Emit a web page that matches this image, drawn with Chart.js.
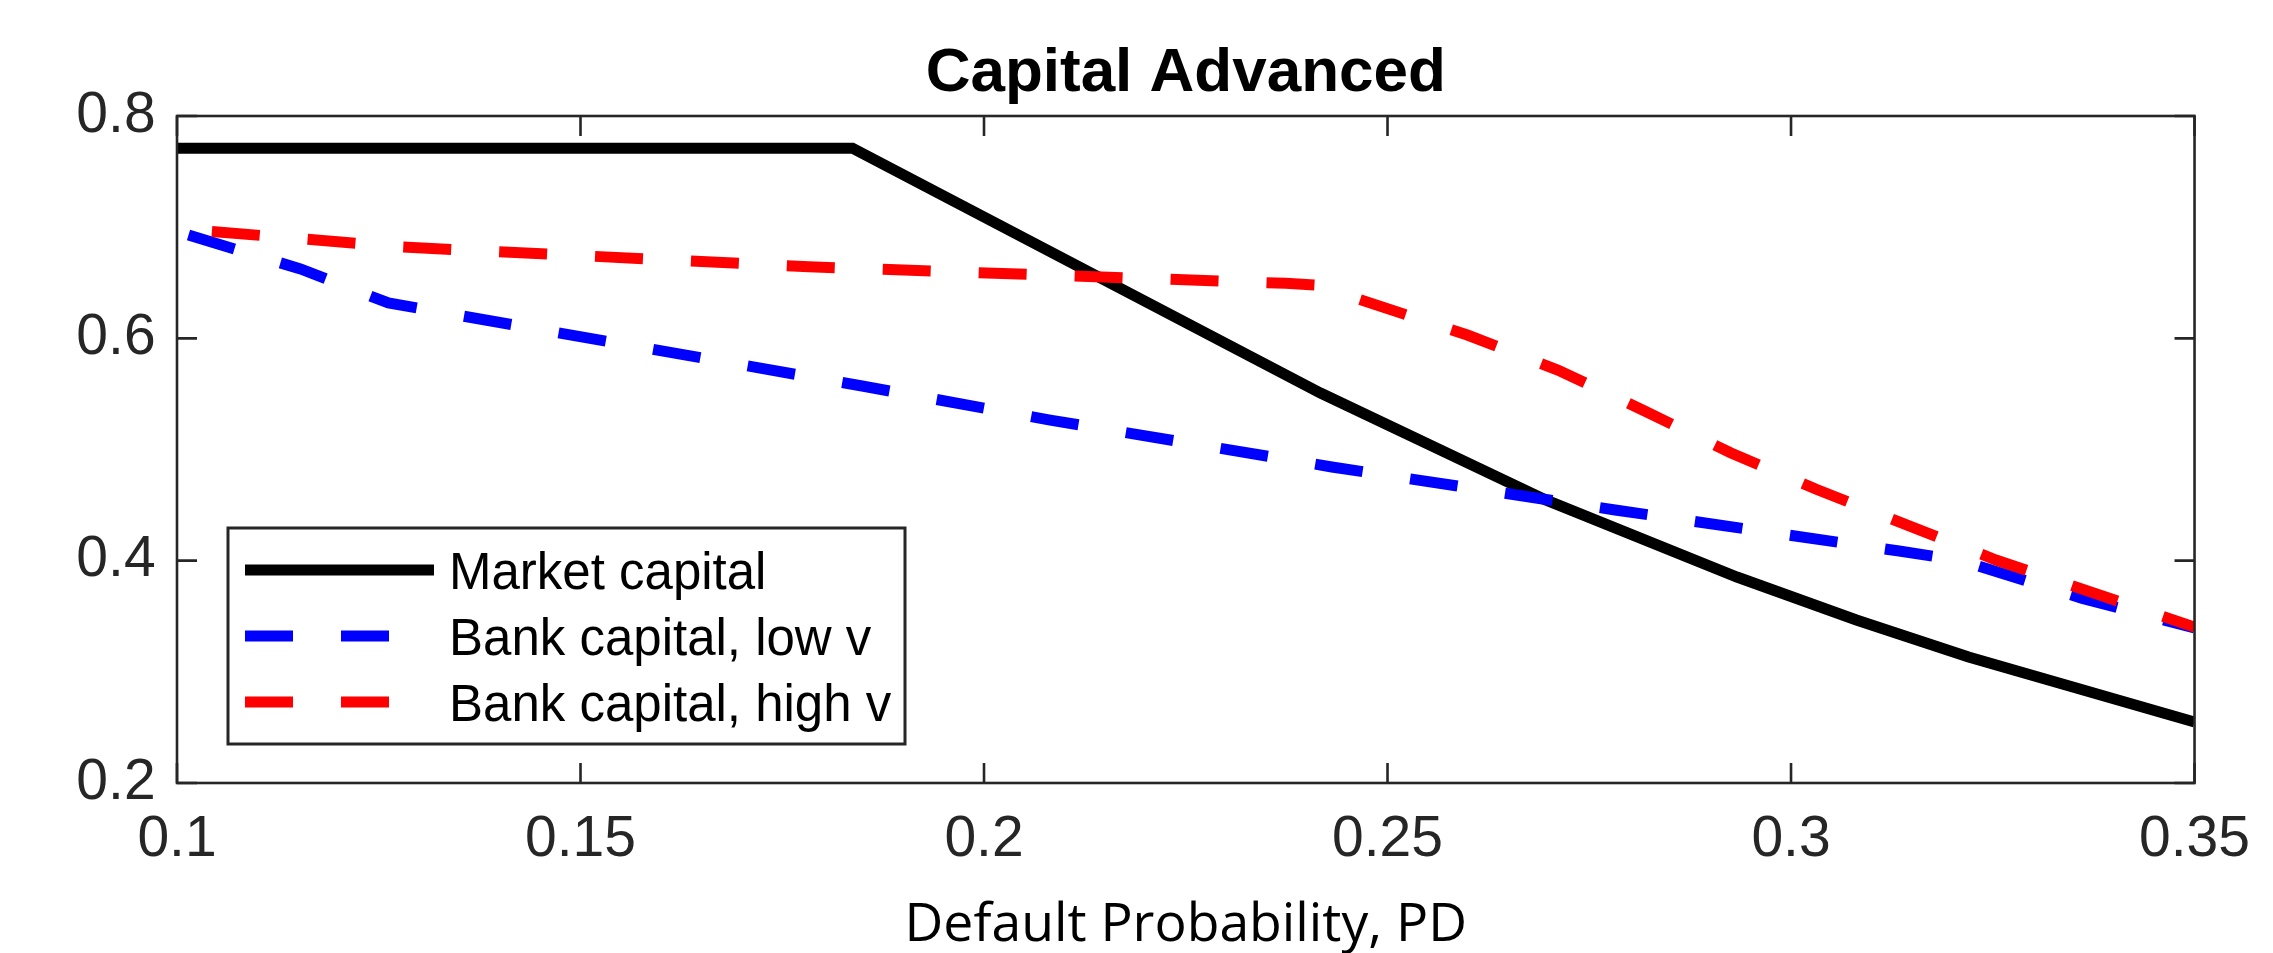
<!DOCTYPE html>
<html>
<head>
<meta charset="utf-8">
<title>Capital Advanced</title>
<script src="https://cdn.jsdelivr.net/npm/chart.js@4/dist/chart.umd.min.js"></script>
<style>
  html, body { margin: 0; padding: 0; background: #ffffff; overflow: hidden; }
  #wrap { width: 2273px; height: 953px; }
</style>
</head>
<body>
<div id="wrap"><canvas id="chart" width="2273" height="953"></canvas></div>
<script>
// Market capital against default probability
const pdMarket      = [0.1, 0.1837, 0.2417, 0.2696, 0.2933, 0.3081, 0.3220, 0.35];
const marketCapital = [0.771, 0.771, 0.5508, 0.4546, 0.3853, 0.3466, 0.3133, 0.2549];

// Bank capital, low v
const pdBankLow      = [0.1, 0.1153, 0.1262, 0.1849, 0.2082, 0.2431, 0.2782, 0.3134, 0.3211, 0.3361, 0.35];
const bankCapitalLow = [0.696, 0.6624, 0.6318, 0.5571, 0.5265, 0.4843, 0.4456, 0.4087, 0.4001, 0.3661, 0.3394];

// Bank capital, high v
const pdBankHigh      = [0.1, 0.128, 0.1783, 0.2374, 0.2411, 0.2599, 0.2711, 0.2818, 0.2925, 0.3032, 0.3254, 0.35];
const bankCapitalHigh = [0.6987, 0.6821, 0.6644, 0.6495, 0.648, 0.603, 0.5715, 0.5349, 0.4971, 0.464, 0.4006, 0.3403];

// Axis ticks
const pdTicks       = [0.1, 0.15, 0.2, 0.25, 0.3, 0.35];
const pdTickLabels  = ['0.1', '0.15', '0.2', '0.25', '0.3', '0.35'];
const capTicks      = [0.2, 0.4, 0.6, 0.8];
const capTickLabels = ['0.2', '0.4', '0.6', '0.8'];

const toPoints = (xs, ys) => xs.map((x, i) => ({ x: x, y: ys[i] }));

const AXIS_COLOR = '#262626';
const TICK_FONT = { family: "'Liberation Sans', Arial, sans-serif", size: 57 };

// Box around the axes with inward tick marks on all four sides
const axesBox = {
  id: 'axesBox',
  afterDatasetsDraw(chart) {
    const { ctx, chartArea: a, scales } = chart;
    const len = 20;
    ctx.save();
    ctx.strokeStyle = AXIS_COLOR;
    ctx.lineWidth = 2.6;
    ctx.lineCap = 'butt';
    ctx.beginPath();
    pdTicks.forEach(v => {
      const px = scales.x.getPixelForValue(v);
      ctx.moveTo(px, a.bottom); ctx.lineTo(px, a.bottom - len);
      ctx.moveTo(px, a.top);    ctx.lineTo(px, a.top + len);
    });
    capTicks.forEach(v => {
      const py = scales.y.getPixelForValue(v);
      ctx.moveTo(a.left, py);  ctx.lineTo(a.left + len, py);
      ctx.moveTo(a.right, py); ctx.lineTo(a.right - len, py);
    });
    ctx.stroke();
    ctx.strokeRect(a.left, a.top, a.right - a.left, a.bottom - a.top);
    ctx.restore();
  }
};

// Legend box placed inside the lower-left corner of the axes
const insideLegend = {
  id: 'insideLegend',
  afterDraw(chart, args, opts) {
    const { ctx } = chart;
    const b = opts.box;
    ctx.save();
    ctx.fillStyle = '#ffffff';
    ctx.fillRect(b.left, b.top, b.right - b.left, b.bottom - b.top);
    ctx.strokeStyle = AXIS_COLOR;
    ctx.lineWidth = 3;
    ctx.strokeRect(b.left, b.top, b.right - b.left, b.bottom - b.top);
    ctx.font = opts.font;
    ctx.fillStyle = '#000000';
    ctx.textAlign = 'left';
    ctx.textBaseline = 'alphabetic';
    chart.data.datasets.forEach((ds, i) => {
      const cy = opts.firstRow + i * opts.rowGap;
      ctx.beginPath();
      ctx.setLineDash(ds.borderDash || []);
      ctx.lineDashOffset = 0;
      ctx.lineCap = 'butt';
      ctx.strokeStyle = ds.borderColor;
      ctx.lineWidth = ds.borderWidth;
      ctx.moveTo(opts.sampleStart, cy);
      ctx.lineTo(opts.sampleEnd, cy);
      ctx.stroke();
      ctx.setLineDash([]);
      ctx.fillText(ds.label, opts.textStart, cy + opts.baselineShift);
    });
    ctx.restore();
  }
};

const lineStyle = { pointRadius: 0, tension: 0, borderWidth: 11, borderCapStyle: 'butt', fill: false };

new Chart(document.getElementById('chart'), {
  type: 'line',
  data: {
    datasets: [
      Object.assign({
        label: 'Market capital',
        data: toPoints(pdMarket, marketCapital),
        borderColor: '#000000',
        order: 2
      }, lineStyle),
      Object.assign({
        label: 'Bank capital, low v',
        data: toPoints(pdBankLow, bankCapitalLow),
        borderColor: '#0000ff',
        borderDash: [48, 48],
        borderDashOffset: 84,
        order: 1
      }, lineStyle),
      Object.assign({
        label: 'Bank capital, high v',
        data: toPoints(pdBankHigh, bankCapitalHigh),
        borderColor: '#ff0000',
        borderDash: [48, 48],
        borderDashOffset: 61,
        order: 0
      }, lineStyle)
    ]
  },
  options: {
    responsive: false,
    devicePixelRatio: 1,
    animation: false,
    events: [],
    layout: { padding: { left: 0, right: 63, top: 0, bottom: 0 } },
    plugins: {
      legend: { display: false },
      tooltip: { enabled: false },
      title: {
        display: true,
        fullSize: false,
        text: 'Capital Advanced',
        color: '#000000',
        font: { family: "'Liberation Sans', Arial, sans-serif", size: 62, weight: 'bold', lineHeight: 1.2 },
        padding: { top: 36.6, bottom: 5 }
      },
      insideLegend: {
        box: { left: 228, top: 528, right: 905, bottom: 744 },
        font: "51px 'Liberation Sans', Arial, sans-serif",
        firstRow: 570,
        rowGap: 66,
        sampleStart: 245,
        sampleEnd: 434,
        textStart: 449,
        baselineShift: 19
      }
    },
    scales: {
      x: {
        type: 'linear',
        min: 0.1,
        max: 0.35,
        afterBuildTicks: s => { s.ticks = pdTicks.map(v => ({ value: v })); },
        afterFit: s => { s.height = 170; },
        ticks: {
          autoSkip: false,
          maxRotation: 0,
          padding: 23,
          color: AXIS_COLOR,
          font: TICK_FONT,
          callback: (v, i) => pdTickLabels[i]
        },
        grid: { display: false, drawTicks: false },
        border: { display: false },
        title: {
          display: true,
          text: 'Default Probability, PD',
          color: '#000000',
          font: { family: "'Open Sans', Lato, sans-serif", size: 53.5, lineHeight: 1 },
          padding: { top: 0, bottom: 0.5 }
        }
      },
      y: {
        type: 'linear',
        min: 0.2,
        max: 0.8,
        afterBuildTicks: s => { s.ticks = capTicks.map(v => ({ value: v })); },
        afterFit: s => { s.width = 177; },
        ticks: {
          padding: 21.4,
          color: AXIS_COLOR,
          font: TICK_FONT,
          callback: (v, i) => capTickLabels[i]
        },
        grid: { display: false, drawTicks: false },
        border: { display: false }
      }
    }
  },
  plugins: [axesBox, insideLegend]
});
</script>
</body>
</html>
